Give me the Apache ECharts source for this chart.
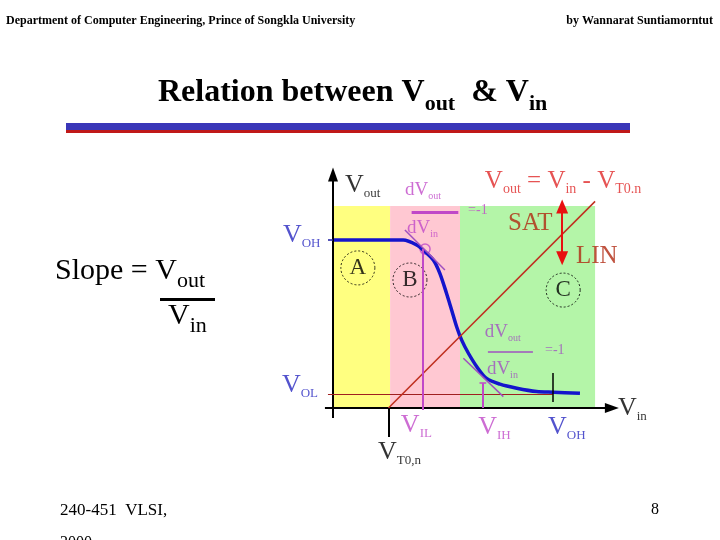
<!DOCTYPE html>
<html>
<head>
<meta charset="utf-8">
<script src="https://cdn.jsdelivr.net/npm/echarts@6/dist/echarts.min.js"></script>
<style>
html, body { margin: 0; padding: 0; background: #fff; }
#chart { width: 720px; height: 540px; }
</style>
</head>
<body>
<div id="chart"></div>
<script>
// transfer characteristic Vout(Vin) (volts, diagram units)
const curveVin  = [0, 2.09, 2.49, 2.74, 2.99, 3.18, 3.38, 3.53, 3.68, 3.83, 4.03, 4.28, 4.57, 4.97, 5.47, 6.06, 6.56, 7.35];
const curveVout = [5.0, 5.0, 4.85, 4.65, 4.40, 4.01, 3.41, 2.92, 2.42, 2.02, 1.63, 1.23, 0.88, 0.71, 0.59, 0.49, 0.47, 0.44];

// characteristic voltages
const vOH = 5.0;
const vOL = 0.41;
const vT0 = 1.65;
const vIL = 2.67;
const vIH = 4.46;
const vOHin = 6.54;

// operating regions A / B / C along Vin
const regionNames = ["A", "B", "C"];
const regionEdges = [0, 1.70, 3.78, 7.80];
const regionTop = 6.01;
const regionColors = ["#ffff80", "#ffc8d2", "#b4f5a8"];

const serif = "Liberation Serif";
const magenta = "#c048c8";
const purple = "#a050c0";
const blue = "#2828c0";
const darkRed = "#b02810";

const chart = echarts.init(document.getElementById("chart"));

function seg(from, to, color, width, startSym, endSym, size) {
    return [
        { coord: from, symbol: startSym || "none", symbolSize: size || [10, 14], lineStyle: { color: color, width: width, type: "solid" } },
        { coord: to, symbol: endSym || "none", symbolSize: size || [10, 14] }
    ];
}

// subscript-style rich text
function richV(size, subSize, color) {
    return {
        v: { fontFamily: serif, fontSize: size, color: color, lineHeight: size + 4, verticalAlign: "bottom" },
        s: { fontFamily: serif, fontSize: subSize, color: color, lineHeight: subSize, verticalAlign: "bottom", padding: [0, 0, -2, 0] }
    };
}

function textItem(x, y, text, rich) {
    return {
        value: [x, y],
        label: { show: true, position: "right", distance: 0, formatter: text, rich: rich }
    };
}

const labels = [
    textItem(0.36, 6.70, "{v|V}{s|out}", richV(26, 13, "#000")),
    textItem(-1.49, 5.21, "{v|V}{s|OH}", richV(26, 13, blue)),
    textItem(-1.52, 0.74, "{v|V}{s|OL}", richV(26, 13, blue)),
    textItem(2.14, 6.55, "{v|dV}{s|out}", richV(19, 10, magenta)),
    textItem(4.02, 5.95, "{v|=-1}", richV(14, 10, magenta)),
    textItem(2.20, 5.42, "{v|dV}{s|in}", richV(19, 10, magenta)),
    textItem(4.52, 6.79, "{v|V}{s|out}{v| = V}{s|in}{v| - V}{s|T0.n}", richV(25, 14, "#e02828")),
    textItem(5.21, 5.54, "{v|SAT}", richV(25, 14, darkRed)),
    textItem(7.23, 4.58, "{v|LIN}", richV(25, 14, darkRed)),
    textItem(4.52, 2.32, "{v|dV}{s|out}", richV(19, 10, purple)),
    textItem(6.31, 1.79, "{v|=-1}", richV(14, 10, purple)),
    textItem(4.58, 1.22, "{v|dV}{s|in}", richV(19, 10, purple)),
    textItem(2.02, -0.45, "{v|V}{s|IL}", richV(26, 13, magenta)),
    textItem(4.32, -0.51, "{v|V}{s|IH}", richV(26, 13, magenta)),
    textItem(6.40, -0.51, "{v|V}{s|OH}", richV(26, 13, blue)),
    textItem(1.34, -1.25, "{v|V}{s|T0,n}", richV(26, 13, "#000")),
    textItem(8.48, 0.05, "{v|V}{s|in}", richV(26, 13, "#000"))
];

const circleCenters = [[0.74, 4.17], [2.29, 3.81], [6.85, 3.51]];

const guideLines = [
    seg([0, -0.3], [0, 6.95], "#000", 2, "none", "triangle", [10, 14]),
    seg([-0.24, 0], [8.3, 0], "#000", 2, "none", "triangle", [10, 14]),
    seg([-0.15, vOH], [0, vOH], "#1a1aa0", 1.5),
    seg([-0.15, vOL], [vOHin, vOL], "#a02020", 1.2),
    seg([vT0, 0], [regionEdges[3], regionEdges[3] - vT0], "#c03020", 1.5),
    seg([vT0, 0], [vT0, -0.86], "#000", 2),
    seg([vIL, 4.73], [vIL, -0.06], magenta, 2),
    seg([vIH, 0.74], [vIH, 0], magenta, 2),
    seg([vIH - 0.1, 0.74], [vIH + 0.1, 0.74], magenta, 1.5),
    seg([vOHin, 1.04], [vOHin, 0.18], "#000", 1.5),
    seg([2.14, 5.30], [3.33, 4.11], purple, 1.5),
    seg([3.88, 1.48], [5.07, 0.34], purple, 1.5),
    seg([2.34, 5.84], [3.73, 5.84], magenta, 3),
    seg([4.61, 1.68], [5.95, 1.68], purple, 1.5),
    seg([6.82, 6.0], [6.82, 4.46], "#e81010", 2, "triangle", "triangle", [12, 14])
];

const option = {
    animation: false,
    grid: { left: 265.8, right: 67.8, top: 156, bottom: 78.2 },
    xAxis: { type: "value", min: -2, max: 9.5, show: false },
    yAxis: { type: "value", min: -1.6, max: 7.5, show: false },
    graphic: [
        { type: "text", left: 6, top: 15, style: { text: "Department of Computer Engineering, Prince of Songkla University", font: "bold 12px 'Liberation Serif'", fill: "#000" } },
        { type: "text", right: 7, top: 15, style: { text: "by Wannarat Suntiamorntut", font: "bold 12px 'Liberation Serif'", fill: "#000" } },
        {
            type: "text", left: 158, top: 77,
            style: {
                text: "{a|Relation between V}{b|out}{a|  & V}{b|in}",
                rich: {
                    a: { fontFamily: serif, fontWeight: "bold", fontSize: 32, lineHeight: 34, verticalAlign: "bottom", fill: "#000" },
                    b: { fontFamily: serif, fontWeight: "bold", fontSize: 22, lineHeight: 22, verticalAlign: "bottom", padding: [0, 0, -6, 0], fill: "#000" }
                }
            }
        },
        { type: "rect", shape: { x: 66, y: 123, width: 564, height: 7 }, style: { fill: "#3a36b8" } },
        { type: "rect", shape: { x: 66, y: 130, width: 564, height: 3 }, style: { fill: "#c01818" } },
        {
            type: "text", left: 55, top: 256,
            style: {
                text: "{a|Slope = V}{b|out}",
                rich: {
                    a: { fontFamily: serif, fontSize: 30, lineHeight: 34, verticalAlign: "bottom", fill: "#000" },
                    b: { fontFamily: serif, fontSize: 22, lineHeight: 22, verticalAlign: "bottom", padding: [0, 0, -6, 0], fill: "#000" }
                }
            }
        },
        { type: "rect", shape: { x: 160, y: 298, width: 55, height: 3 }, style: { fill: "#000" } },
        {
            type: "text", left: 168, top: 301,
            style: {
                text: "{a|V}{b|in}",
                rich: {
                    a: { fontFamily: serif, fontSize: 30, lineHeight: 34, verticalAlign: "bottom", fill: "#000" },
                    b: { fontFamily: serif, fontSize: 22, lineHeight: 22, verticalAlign: "bottom", padding: [0, 0, -6, 0], fill: "#000" }
                }
            }
        },
        { type: "text", left: 60, top: 502, style: { text: "240-451  VLSI,", font: "17px 'Liberation Serif'", fill: "#000" } },
        { type: "text", left: 651, top: 502, style: { text: "8", font: "16px 'Liberation Serif'", fill: "#000" } },
        { type: "text", left: 60, top: 535, style: { text: "2000", font: "16px 'Liberation Serif'", fill: "#000" } }
    ],
    series: [
        {
            name: "regions",
            type: "line",
            data: [],
            markArea: {
                silent: true,
                label: { show: false },
                data: regionNames.map((n, i) => [
                    { coord: [regionEdges[i], 0], itemStyle: { color: regionColors[i] } },
                    { coord: [regionEdges[i + 1], regionTop] }
                ])
            }
        },
        {
            name: "guides",
            type: "line",
            data: [],
            markLine: {
                silent: true,
                animation: false,
                label: { show: false },
                emphasis: { disabled: true },
                data: guideLines
            }
        },
        {
            name: "Vout",
            type: "line",
            data: curveVin.map((x, i) => [x, curveVout[i]]),
            smooth: 0.3,
            showSymbol: false,
            lineStyle: { color: "#1414cc", width: 3.5 }
        },
        {
            name: "regionCircles",
            type: "scatter",
            symbol: "circle",
            symbolSize: 34,
            itemStyle: { color: "rgba(0,0,0,0)", borderColor: "#000", borderWidth: 1, borderType: [2, 2] },
            label: { show: true, position: "inside", fontFamily: serif, fontSize: 23, color: "#000" },
            data: circleCenters.map((c, i) => ({ value: c, name: regionNames[i], label: { formatter: regionNames[i] } }))
        },
        {
            name: "tangentPoint",
            type: "scatter",
            symbol: "circle",
            symbolSize: 10,
            itemStyle: { color: "rgba(0,0,0,0)", borderColor: magenta, borderWidth: 1.5 },
            data: [[2.74, 4.73]]
        },
        {
            name: "labels",
            type: "scatter",
            symbolSize: 0,
            data: labels
        }
    ]
};

chart.setOption(option);
</script>
</body>
</html>
